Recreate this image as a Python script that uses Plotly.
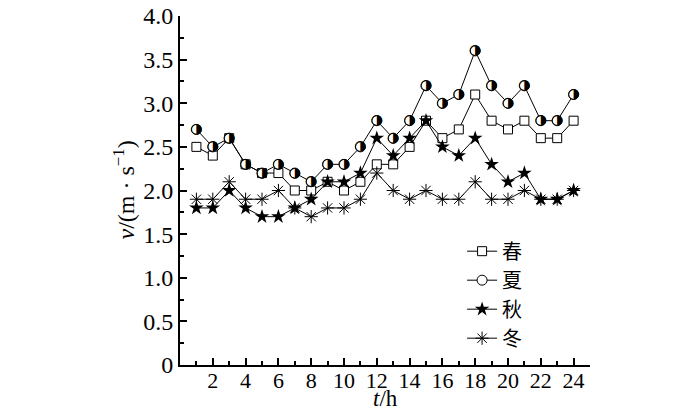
import plotly.graph_objects as go

hours = list(range(1, 25))
spring = [2.5, 2.4, 2.6, 2.3, 2.2, 2.2, 2.0, 2.0, 2.1, 2.0, 2.1, 2.3,
          2.3, 2.5, 2.8, 2.6, 2.7, 3.1, 2.8, 2.7, 2.8, 2.6, 2.6, 2.8]
summer = [2.7, 2.5, 2.6, 2.3, 2.2, 2.3, 2.2, 2.1, 2.3, 2.3, 2.5, 2.8,
          2.6, 2.8, 3.2, 3.0, 3.1, 3.6, 3.2, 3.0, 3.2, 2.8, 2.8, 3.1]
autumn = [1.8, 1.8, 2.0, 1.8, 1.7, 1.7, 1.8, 1.9, 2.1, 2.1, 2.2, 2.6,
          2.4, 2.6, 2.8, 2.5, 2.4, 2.6, 2.3, 2.1, 2.2, 1.9, 1.9, 2.0]
winter = [1.9, 1.9, 2.1, 1.9, 1.9, 2.0, 1.8, 1.7, 1.8, 1.8, 1.9, 2.2,
          2.0, 1.9, 2.0, 1.9, 1.9, 2.1, 1.9, 1.9, 2.0, 1.9, 1.9, 2.0]
names = ["春", "夏", "秋", "冬"]

y_tickvals = [0, 0.5, 1.0, 1.5, 2.0, 2.5, 3.0, 3.5, 4.0]
y_ticktext = ["0", "0.5", "1.0", "1.5", "2.0", "2.5", "3.0", "3.5", "4.0"]
x_tickvals = list(range(2, 25, 2))

serif = "Liberation Serif, Times New Roman, serif"
cjk = "Noto Sans CJK SC"

fig = go.Figure()
line = dict(color="black", width=1)
fig.add_trace(go.Scatter(x=hours, y=spring, name=names[0], mode="lines+markers", line=line,
                         marker=dict(symbol="square", size=9, color="white",
                                     line=dict(color="black", width=1))))
fig.add_trace(go.Scatter(x=hours, y=summer, name=names[1], mode="lines+markers", line=line,
                         marker=dict(symbol="circle", size=10, color="white",
                                     line=dict(color="black", width=1))))
fig.add_trace(go.Scatter(x=hours, y=summer, mode="text", text=["◑"] * len(hours),
                         textposition="middle center", showlegend=False, hoverinfo="skip",
                         textfont=dict(family="DejaVu Sans", size=14, color="black")))
fig.add_trace(go.Scatter(x=hours, y=autumn, name=names[2], mode="lines+markers", line=line,
                         marker=dict(symbol="star", size=11, color="black",
                                     line=dict(color="black", width=0))))
fig.add_trace(go.Scatter(x=hours, y=winter, name=names[3], mode="lines+markers", line=line,
                         marker=dict(symbol="asterisk-open", size=11, color="black",
                                     line=dict(color="black", width=1))))

fig.update_layout(
    width=700, height=412,
    margin=dict(l=172, r=118, t=8, b=55),
    paper_bgcolor="white", plot_bgcolor="white",
    font=dict(family=serif, size=23, color="black"),
    showlegend=True,
    legend=dict(x=0.688, y=0.382, xanchor="left", yanchor="top",
                bgcolor="rgba(0,0,0,0)", font=dict(family=cjk, size=20),
                itemwidth=30, tracegroupgap=0),
    xaxis=dict(range=[0, 25], tickvals=x_tickvals, ticks="inside", ticklen=7, tickwidth=1.5,
               tickcolor="black", showline=True, linecolor="black", linewidth=2,
               showgrid=False, zeroline=False, automargin=False, ticklabelstandoff=-5,
               ticklabeloverflow="allow",
               minor=dict(tickvals=list(range(1, 25, 2)), ticks="inside", ticklen=4,
                          tickwidth=1.5, tickcolor="black"),
               tickfont=dict(family=serif, size=22)),
    yaxis=dict(range=[0, 4.0], tickvals=y_tickvals, ticktext=y_ticktext, ticks="inside",
               ticklen=7, tickwidth=1.5, tickcolor="black", showline=True, linecolor="black",
               linewidth=2, showgrid=False, zeroline=False, automargin=False,
               ticklabeloverflow="allow",
               minor=dict(tickvals=[0.25 + 0.5 * i for i in range(8)], ticks="inside", ticklen=4,
                          tickwidth=1.5, tickcolor="black"),
               tickfont=dict(family=serif, size=24)),
    annotations=[
        dict(text="<i>t</i>/h", xref="paper", yref="paper", x=0.5, y=-0.095,
             xanchor="center", yanchor="middle", showarrow=False,
             font=dict(family=serif, size=23)),
        dict(text="<i>v</i>/(m · s<sup>−1</sup>)", xref="paper", yref="paper", x=-0.139, y=0.5,
             xanchor="center", yanchor="middle", textangle=-90, showarrow=False,
             font=dict(family=serif, size=24)),
    ],
)

fig.write_html("out.html")
